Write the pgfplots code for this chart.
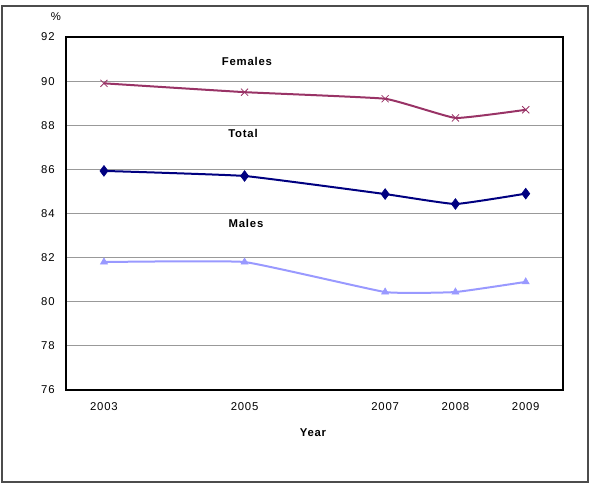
\documentclass[border=0pt]{standalone}
\usepackage{pgfplots}
\pgfplotsset{compat=1.18}
\usepackage{fontspec}
\setmainfont{Liberation Sans}
\newfontfamily\chartfont[LetterSpace=7]{Liberation Sans}
\newcommand\cf{\fontsize{8.5}{10}\chartfont}
\definecolor{fem}{HTML}{993366}
\definecolor{tot}{HTML}{000080}
\definecolor{mal}{HTML}{9999FF}
\pgfplotstableread{
year females total males
2003 89.9 85.93 81.8
2005 89.5 85.7 81.8
2007 89.2 84.88 80.44
2008 88.33 84.43 80.44
2009 88.7 84.9 80.9
}\datatable
\begin{document}
\begin{tikzpicture}[x=0.75pt,y=0.75pt]
\useasboundingbox (0,0) rectangle (590,488);
\draw[black!70,line width=0.8pt] (2,6) rectangle (588,6+476);
\begin{axis}[
  at={(49.5pt,73.5pt)}, anchor=south west,
  scale only axis, width=372.75pt, height=264.75pt,
  xmin=2002.46, xmax=2009.53, ymin=76, ymax=92,
  xtick={2003,2005,2007,2008,2009},
  ytick={76,78,...,92},
  xticklabel style={/pgf/number format/1000 sep={}},
  /pgf/number format/assume math mode=true,
  tick label style={font=\cf},
  major tick length=0pt,
  ymajorgrids, grid style={gray!80, line width=0.6pt},
  axis line style={black, line width=0.8pt},
  xtick pos=bottom, ytick pos=left,
  yticklabel style={xshift=-5pt},
  xticklabel style={yshift=-6pt},
  clip=false,
]
\addplot[fem, line width=1.5pt, smooth, tension=0.2, mark=x, mark size=3.75pt, mark options={line width=0.6pt}] table[x=year,y=females]{\datatable};
\addplot[tot, line width=1.5pt, smooth, tension=0.2, mark=diamond*, mark size=4pt, mark options={line width=0.5pt}] table[x=year,y=total]{\datatable};
\addplot[mal, line width=1.5pt, smooth, tension=0.2, mark=triangle*, mark size=3pt, mark options={line width=0.5pt}] table[x=year,y=males]{\datatable};
\end{axis}
\node[font=\cf\bfseries] at (247,488-61) {Females};
\node[font=\cf\bfseries] at (243,488-133) {Total};
\node[font=\cf\bfseries] at (246,488-223) {Males};
\node[font=\cf\bfseries] at (313,488-433) {Year};
\node[font=\cf] at (56,488-17) {\%};
\end{tikzpicture}
\end{document}
